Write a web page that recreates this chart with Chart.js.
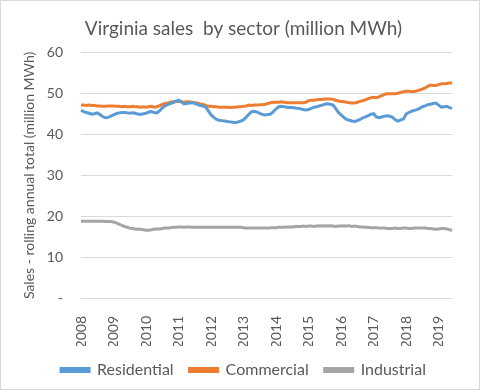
<!DOCTYPE html>
<html>
<head>
<meta charset="utf-8">
<script src="https://cdn.jsdelivr.net/npm/chart.js@4"></script>
<style>
  html, body { margin: 0; padding: 0; background: #fff; }
  #wrap { width: 478px; height: 388px; border: 1px solid #d9d9d9; }
</style>
</head>
<body>
<div id="wrap"><canvas id="chart1" width="478" height="388"></canvas></div>
<script>
// monthly rolling totals, Jan 2008 - Jun 2019
const years = ['2008','2009','2010','2011','2012','2013','2014','2015','2016','2017','2018','2019'];

const residential = [
  45.9, 45.6, 45.4, 45.2, 45.0, 45.1, 45.3, 44.9, 44.4, 44.1, 44.2, 44.5,
  44.8, 45.1, 45.3, 45.4, 45.4, 45.3, 45.2, 45.3, 45.2, 45.0, 44.9, 45.1,
  45.2, 45.5, 45.6, 45.4, 45.3, 45.8, 46.5, 47.0, 47.3, 47.6, 47.8, 48.1,
  48.4, 48.0, 47.5, 47.6, 47.7, 47.8, 47.6, 47.4, 47.1, 47.0, 46.7, 45.8,
  44.8, 44.2, 43.7, 43.5, 43.4, 43.3, 43.2, 43.1, 43.0, 42.9, 43.1, 43.3,
  43.6, 44.3, 45.0, 45.6, 45.7, 45.5, 45.2, 44.9, 44.8, 44.9, 45.0, 45.6,
  46.3, 46.8, 46.9, 46.8, 46.7, 46.6, 46.6, 46.5, 46.4, 46.3, 46.1, 46.0,
  46.1, 46.4, 46.7, 46.8, 47.0, 47.2, 47.4, 47.5, 47.4, 47.2, 46.4, 45.4,
  44.8, 44.2, 43.7, 43.5, 43.3, 43.2, 43.4, 43.7, 44.1, 44.3, 44.6, 45.0,
  45.1, 44.3, 44.1, 44.3, 44.5, 44.6, 44.5, 44.2, 43.6, 43.3, 43.6, 43.8,
  45.0, 45.4, 45.7, 45.9, 46.1, 46.4, 46.8, 47.0, 47.3, 47.4, 47.6, 47.7,
  47.2, 46.7, 46.8, 46.9, 46.6, 46.4
];

const commercial = [
  47.2, 47.2, 47.1, 47.2, 47.1, 47.1, 47.0, 47.0, 46.9, 46.9, 47.0, 47.0,
  47.0, 46.9, 46.9, 46.8, 46.9, 46.8, 46.8, 46.9, 46.8, 46.8, 46.7, 46.8,
  46.7, 46.8, 46.9, 46.7, 46.8, 47.1, 47.4, 47.6, 47.7, 47.9, 48.0, 48.1,
  48.1, 48.0, 47.9, 48.0, 48.0, 47.9, 47.8, 47.7, 47.5, 47.4, 47.1, 46.9,
  46.9, 46.8, 46.8, 46.7, 46.7, 46.7, 46.7, 46.6, 46.7, 46.7, 46.8, 46.8,
  46.9, 47.0, 47.2, 47.1, 47.2, 47.2, 47.3, 47.3, 47.4, 47.6, 47.8, 47.9,
  47.9, 47.9, 48.0, 47.9, 47.8, 47.8, 47.8, 47.8, 47.8, 47.8, 47.8, 47.9,
  48.3, 48.4, 48.4, 48.5, 48.6, 48.6, 48.7, 48.7, 48.7, 48.6, 48.4, 48.2,
  48.1, 48.0, 47.9, 47.8, 47.7, 47.7, 47.9, 48.1, 48.3, 48.5, 48.8, 49.0,
  49.1, 49.0, 49.2, 49.5, 49.8, 50.0, 50.0, 50.0, 50.0, 50.1, 50.3, 50.5,
  50.6, 50.6, 50.5, 50.5, 50.7, 50.9, 51.1, 51.4, 51.8, 52.1, 52.0, 52.0,
  52.2, 52.4, 52.4, 52.5, 52.6, 52.6
];

const industrial = [
  18.8, 18.8, 18.8, 18.8, 18.8, 18.8, 18.8, 18.8, 18.8, 18.7, 18.7, 18.7,
  18.6, 18.4, 18.1, 17.8, 17.5, 17.3, 17.1, 17.0, 16.9, 16.8, 16.8, 16.7,
  16.6, 16.6, 16.7, 16.8, 16.9, 16.9, 17.0, 17.1, 17.1, 17.2, 17.3, 17.3,
  17.4, 17.4, 17.3, 17.4, 17.4, 17.3, 17.3, 17.3, 17.3, 17.3, 17.3, 17.3,
  17.3, 17.3, 17.3, 17.3, 17.3, 17.3, 17.3, 17.3, 17.3, 17.3, 17.3, 17.3,
  17.2, 17.1, 17.1, 17.1, 17.1, 17.1, 17.1, 17.1, 17.1, 17.1, 17.2, 17.2,
  17.2, 17.3, 17.3, 17.3, 17.4, 17.4, 17.4, 17.5, 17.5, 17.5, 17.6, 17.5,
  17.6, 17.6, 17.5, 17.6, 17.7, 17.6, 17.7, 17.6, 17.7, 17.6, 17.5, 17.6,
  17.6, 17.7, 17.6, 17.7, 17.5, 17.6, 17.5, 17.4, 17.4, 17.3, 17.3, 17.2,
  17.2, 17.2, 17.1, 17.1, 17.1, 17.0, 17.0, 17.0, 17.1, 17.0, 17.0, 17.1,
  17.1, 17.0, 17.0, 17.1, 17.1, 17.1, 17.1, 17.1, 17.0, 17.0, 16.9, 16.8,
  16.9, 17.0, 17.0, 16.9, 16.7, 16.6
];

// one label per month, only January shows the year
const labels = [];
years.forEach(y => {
  for (let m = 1; m <= 12; m++) {
    if (labels.length < residential.length) labels.push(y + '-' + m);
  }
});

const grey = '#595959';
Chart.defaults.font.family = 'Lato, "Liberation Sans", sans-serif';
Chart.defaults.color = grey;

function makeSet(label, data, color) {
  return {
    label: label,
    data: data,
    borderColor: color,
    backgroundColor: color,
    borderWidth: 3,
    pointRadius: 0,
    tension: 0
  };
}

new Chart(document.getElementById('chart1').getContext('2d'), {
  type: 'line',
  data: {
    labels: labels,
    datasets: [
      makeSet('Residential', residential, '#5B9BD5'),
      makeSet('Commercial', commercial, '#ED7D31'),
      makeSet('Industrial', industrial, '#A5A5A5')
    ]
  },
  options: {
    responsive: false,
    animation: false,
    layout: { padding: { left: 20, right: 13, top: 0, bottom: 1 } },
    scales: {
      x: {
        grid: { display: false },
        border: { display: false },
        afterFit: s => { s.height = 48; },
        ticks: {
          autoSkip: false,
          maxRotation: 90,
          minRotation: 90,
          padding: 10,
          font: { size: 14 },
          callback: function (val) {
            const l = this.getLabelForValue(val);
            return l.endsWith('-1') ? l.split('-')[0] : '';
          }
        }
      },
      y: {
        min: 0,
        max: 60,
        border: { display: false },
        grid: { color: '#d9d9d9', drawTicks: false },
        afterFit: s => { s.width = 60; },
        ticks: {
          stepSize: 10,
          padding: 18,
          font: { size: 14 },
          callback: v => v === 0 ? '-' : v
        },
        title: {
          display: true,
          text: 'Sales - rolling annual total (million MWh)',
          font: { size: 14 },
          padding: { top: 0, bottom: 0 }
        }
      }
    },
    plugins: {
      title: {
        display: true,
        text: 'Virginia sales  by sector (million MWh)',
        font: { size: 19, weight: 'normal' },
        padding: { top: 16, bottom: 13 }
      },
      legend: {
        position: 'bottom',
        labels: {
          boxWidth: 28,
          boxHeight: 3,
          padding: 16,
          font: { size: 16 }
        }
      },
      tooltip: { enabled: false }
    }
  }
});
</script>
</body>
</html>
